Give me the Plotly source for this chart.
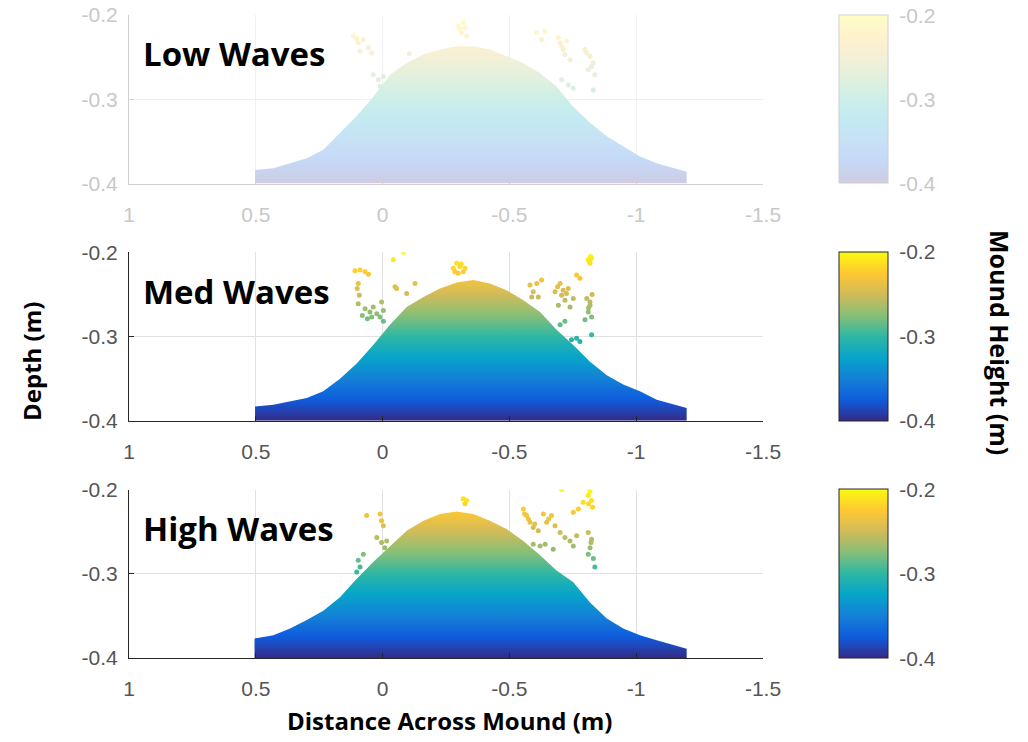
import plotly.graph_objects as go

# ---------------- data ----------------
PANEL_TITLES = ["Low Waves", "Med Waves", "High Waves"]
X_TICKS = [1, 0.5, 0, -0.5, -1, -1.5]
X_TICK_TEXT = ["1", "0.5", "0", "-0.5", "-1", "-1.5"]
Y_TICKS = [-0.2, -0.3, -0.4]
Y_TICK_TEXT = ["-0.2", "-0.3", "-0.4"]
BASE_DEPTH = -0.4
CMIN, CMAX = -0.4, -0.2

# mound surface profiles (distance, top depth)
low_x = [0.503, 0.431, 0.299, 0.234, 0.168, 0.102, 0.037, -0.029, -0.095, -0.161, -0.226, -0.292, -0.358,
         -0.423, -0.489, -0.555, -0.621, -0.686, -0.752, -0.818, -0.884, -0.949, -1.015, -1.081, -1.146, -1.199]
low_top = [-0.384, -0.382, -0.370, -0.360, -0.340, -0.320, -0.297, -0.271, -0.257, -0.247, -0.241, -0.237, -0.237,
           -0.241, -0.249, -0.257, -0.269, -0.285, -0.309, -0.328, -0.344, -0.356, -0.368, -0.376, -0.382, -0.386]

med_x = [0.503, 0.431, 0.299, 0.234, 0.168, 0.102, 0.037, -0.029, -0.095, -0.161, -0.226, -0.292, -0.358,
         -0.423, -0.489, -0.555, -0.621, -0.686, -0.752, -0.818, -0.884, -0.949, -1.015, -1.081, -1.146, -1.199]
med_top = [-0.383, -0.381, -0.373, -0.365, -0.350, -0.332, -0.310, -0.286, -0.265, -0.253, -0.243, -0.236, -0.233,
           -0.237, -0.245, -0.257, -0.271, -0.292, -0.310, -0.330, -0.346, -0.357, -0.365, -0.375, -0.381, -0.385]

high_x = [0.505, 0.431, 0.365, 0.299, 0.234, 0.168, 0.102, 0.037, -0.029, -0.095, -0.161, -0.226, -0.292, -0.358,
          -0.423, -0.489, -0.555, -0.621, -0.686, -0.752, -0.818, -0.884, -0.949, -1.015, -1.081, -1.146, -1.199]
high_top = [-0.377, -0.373, -0.365, -0.355, -0.344, -0.328, -0.306, -0.286, -0.267, -0.249, -0.237, -0.229, -0.226,
            -0.229, -0.237, -0.247, -0.261, -0.278, -0.296, -0.310, -0.334, -0.353, -0.365, -0.373, -0.379, -0.385, -0.389]

# scattered points above the mound (distance, depth)
low_out_x = [0.115, 0.096, 0.076, 0.056, 0.043, 0.089, 0.037, 0.017, -0.003, -0.016, 0.010, -0.298, -0.312, -0.318,
             -0.331, -0.607, -0.627, -0.640, -0.693, -0.706, -0.726, -0.719, -0.739, -0.798, -0.818, -0.831, -0.811,
             -0.837, -0.706, -0.732, -0.752, -0.831, -0.305, -0.325, -0.700, -0.712, -0.805, -0.824, -0.105, 0.102]
low_out_y = [-0.225, -0.233, -0.229, -0.239, -0.245, -0.243, -0.271, -0.277, -0.273, -0.283, -0.285, -0.213, -0.221,
             -0.209, -0.225, -0.221, -0.229, -0.219, -0.227, -0.237, -0.231, -0.247, -0.253, -0.241, -0.249, -0.257,
             -0.265, -0.271, -0.277, -0.283, -0.287, -0.289, -0.217, -0.215, -0.233, -0.241, -0.245, -0.261, -0.246, -0.228]

med_out_x = [0.109, 0.089, 0.069, 0.056, 0.096, 0.100, 0.092, 0.096, 0.069, 0.050, 0.037, 0.023, 0.010, -0.003,
             0.004, -0.003, 0.043, -0.049, -0.055, -0.042, -0.082, -0.128, -0.095, -0.279, -0.292, -0.305, -0.318,
             -0.298, -0.325, -0.581, -0.594, -0.608, -0.614, -0.627, -0.588, -0.680, -0.700, -0.706, -0.719, -0.732,
             -0.752, -0.693, -0.739, -0.778, -0.765, -0.811, -0.818, -0.824, -0.805, -0.818, -0.811, -0.824, -0.798,
             -0.818, -0.700, -0.719, -0.745, -0.765, -0.778, -0.824, -0.815, -0.820, -0.690, -0.712, -0.725, -0.285,
             -0.310, -0.812, -0.826, 0.080, 0.060]
med_out_y = [-0.222, -0.221, -0.223, -0.226, -0.237, -0.243, -0.251, -0.261, -0.267, -0.271, -0.265, -0.273, -0.277,
             -0.269, -0.259, -0.282, -0.277, -0.241, -0.243, -0.209, -0.200, -0.237, -0.249, -0.219, -0.213, -0.217,
             -0.223, -0.225, -0.219, -0.239, -0.247, -0.237, -0.253, -0.233, -0.253, -0.247, -0.237, -0.251, -0.257,
             -0.243, -0.255, -0.263, -0.265, -0.231, -0.227, -0.209, -0.213, -0.207, -0.255, -0.263, -0.271, -0.277,
             -0.280, -0.259, -0.286, -0.282, -0.304, -0.302, -0.306, -0.298, -0.211, -0.205, -0.241, -0.245, -0.249,
             -0.223, -0.214, -0.266, -0.250, -0.275, -0.279]

high_out_x = [0.063, 0.010, 0.004, -0.003, 0.023, 0.004, -0.009, -0.016, 0.096, 0.089, 0.102, 0.076, -0.318, -0.325,
              -0.331, -0.555, -0.568, -0.581, -0.594, -0.614, -0.634, -0.647, -0.666, -0.680, -0.700, -0.719, -0.739,
              -0.752, -0.765, -0.706, -0.752, -0.772, -0.791, -0.811, -0.824, -0.818, -0.811, -0.824, -0.818, -0.811,
              -0.831, -0.837, -0.594, -0.621, -0.641, -0.673, -0.560, -0.575, -0.600, -0.655, -0.812, -0.828, -0.822]
high_out_y = [-0.231, -0.229, -0.237, -0.243, -0.257, -0.263, -0.269, -0.261, -0.284, -0.292, -0.298, -0.277, -0.211,
              -0.217, -0.213, -0.223, -0.231, -0.239, -0.245, -0.249, -0.229, -0.239, -0.231, -0.243, -0.251, -0.257,
              -0.261, -0.267, -0.255, -0.200, -0.227, -0.223, -0.215, -0.207, -0.213, -0.202, -0.251, -0.259, -0.269,
              -0.277, -0.282, -0.292, -0.265, -0.267, -0.265, -0.271, -0.229, -0.235, -0.241, -0.235, -0.217, -0.221,
              -0.263]

# ---------------- styling ----------------
PARULA = ["#352a87", "#0f5cdd", "#1481d6", "#06a4ca", "#2eb7a4", "#87bf77", "#d1bb59", "#fec832", "#f9fb0e"]


def scale(colors, alpha=1.0):
    out = []
    n = len(colors) - 1
    for i, c in enumerate(colors):
        r, g, b = int(c[1:3], 16), int(c[3:5], 16), int(c[5:7], 16)
        r = round(255 - alpha * (255 - r))
        g = round(255 - alpha * (255 - g))
        b = round(255 - alpha * (255 - b))
        out.append([i / n, f"rgb({r},{g},{b})"])
    return out


CS_FULL = scale(PARULA)
CS_FADED = scale(PARULA, 0.24)

W, H = 1028, 742
ML, MT = 129, 15
PLOT_R, PLOT_B = 763, 658
MR, MB = W - PLOT_R, H - PLOT_B
PW = W - ML - MR
PH = H - MT - MB
pan_h = 168.5 / PH
gap = (1 - 3 * pan_h) / 2
domains = [[1 - pan_h, 1.0], [pan_h + gap, 2 * pan_h + gap], [0.0, pan_h]]


def px_x(sx):  # screen x -> paper x
    return (sx - ML) / PW


def px_y(sy):  # screen y -> paper y
    return (PLOT_B - sy) / PH


data = [
    (low_x, low_top, low_out_x, low_out_y, CS_FADED, True),
    (med_x, med_top, med_out_x, med_out_y, CS_FULL, False),
    (high_x, high_top, high_out_x, high_out_y, CS_FULL, False),
]

TICK_FONT = "Liberation Sans, Arial, sans-serif"
TITLE_FONT = "Open Sans, sans-serif"

fig = go.Figure()
layout = {}
for i, (px, ptop, ox, oy, cs, faded) in enumerate(data):
    n = i + 1
    xa = "x" if n == 1 else f"x{n}"
    ya = "y" if n == 1 else f"y{n}"
    line_col = "#d0d0d0" if faded else "#262626"
    tick_col = "#c8c8c8" if faded else "#555555"
    grid_col = "#f0f0f0" if faded else "#e1e1e1"

    fig.add_trace(go.Scatter(
        x=[px[0]] + list(px) + [px[-1]],
        y=[BASE_DEPTH] + list(ptop) + [BASE_DEPTH],
        mode="lines", line=dict(width=0), fill="toself",
        fillgradient=dict(type="vertical", colorscale=cs, start=CMIN, stop=CMAX),
        hoverinfo="skip", showlegend=False, xaxis=xa, yaxis=ya,
    ))
    d = domains[i]
    fig.add_trace(go.Scatter(
        x=ox, y=oy, mode="markers", showlegend=False, xaxis=xa, yaxis=ya,
        marker=dict(size=5, color=oy, colorscale=cs, cmin=CMIN, cmax=CMAX, showscale=True,
                    line=dict(width=0),
                    colorbar=dict(
                        x=px_x(839), xanchor="left", xpad=0, ypad=0,
                        y=(d[0] + d[1]) / 2, yanchor="middle", len=d[1] - d[0], lenmode="fraction",
                        thickness=49, thicknessmode="pixels",
                        outlinecolor=line_col, outlinewidth=1,
                        tickvals=Y_TICKS, ticktext=Y_TICK_TEXT,
                        ticks="outside", ticklen=7, tickcolor="rgba(0,0,0,0)",
                        ticklabeloverflow="allow",
                        tickfont=dict(family=TICK_FONT, size=21, color=tick_col),
                    )),
    ))

    axis_common = dict(showline=True, linecolor=line_col, linewidth=1, ticks="inside", ticklen=5,
                       tickcolor=line_col, showgrid=True, gridcolor=grid_col, gridwidth=1,
                       zeroline=False, ticklabeloverflow="allow",
                       tickfont=dict(family=TICK_FONT, size=21, color=tick_col))
    layout["xaxis" if n == 1 else f"xaxis{n}"] = dict(
        axis_common, domain=[0, 1], anchor=ya, range=[1, -1.5],
        tickvals=X_TICKS, ticktext=X_TICK_TEXT, ticklabelstandoff=12)
    layout["yaxis" if n == 1 else f"yaxis{n}"] = dict(
        axis_common, domain=d, anchor=xa, range=[-0.4, -0.2],
        tickvals=Y_TICKS, ticktext=Y_TICK_TEXT, ticklabelstandoff=6)

annotations = []
for i, t in enumerate(PANEL_TITLES):
    n = i + 1
    annotations.append(dict(
        text=f"<b>{t}</b>", xref=("x" if n == 1 else f"x{n}") + " domain",
        yref=("y" if n == 1 else f"y{n}") + " domain",
        x=(141 - 129) / PW, y=1 - 39 / 168.5, xanchor="left", yanchor="middle",
        showarrow=False, font=dict(family=TITLE_FONT, size=33, color="#000000")))

annotations.append(dict(text="<b>Depth (m)</b>", xref="paper", yref="paper",
                        x=px_x(32), y=px_y(362), textangle=-90,
                        xanchor="center", yanchor="middle", showarrow=False,
                        font=dict(family=TITLE_FONT, size=24, color="#000000")))
annotations.append(dict(text="<b>Mound Height (m)</b>", xref="paper", yref="paper",
                        x=px_x(1000), y=px_y(343), textangle=90,
                        xanchor="center", yanchor="middle", showarrow=False,
                        font=dict(family=TITLE_FONT, size=25, color="#000000")))
annotations.append(dict(text="<b>Distance Across Mound (m)</b>", xref="paper", yref="paper",
                        x=px_x(450), y=px_y(720),
                        xanchor="center", yanchor="middle", showarrow=False,
                        font=dict(family=TITLE_FONT, size=24, color="#000000")))

fig.update_layout(
    width=W, height=H, margin=dict(l=ML, r=MR, t=MT, b=MB, autoexpand=False),
    paper_bgcolor="white", plot_bgcolor="white",
    annotations=annotations, **layout,
)

fig.write_html("out.html", config={"displayModeBar": False},
               post_script="document.body.style.margin='0';document.body.style.overflow='hidden';")
